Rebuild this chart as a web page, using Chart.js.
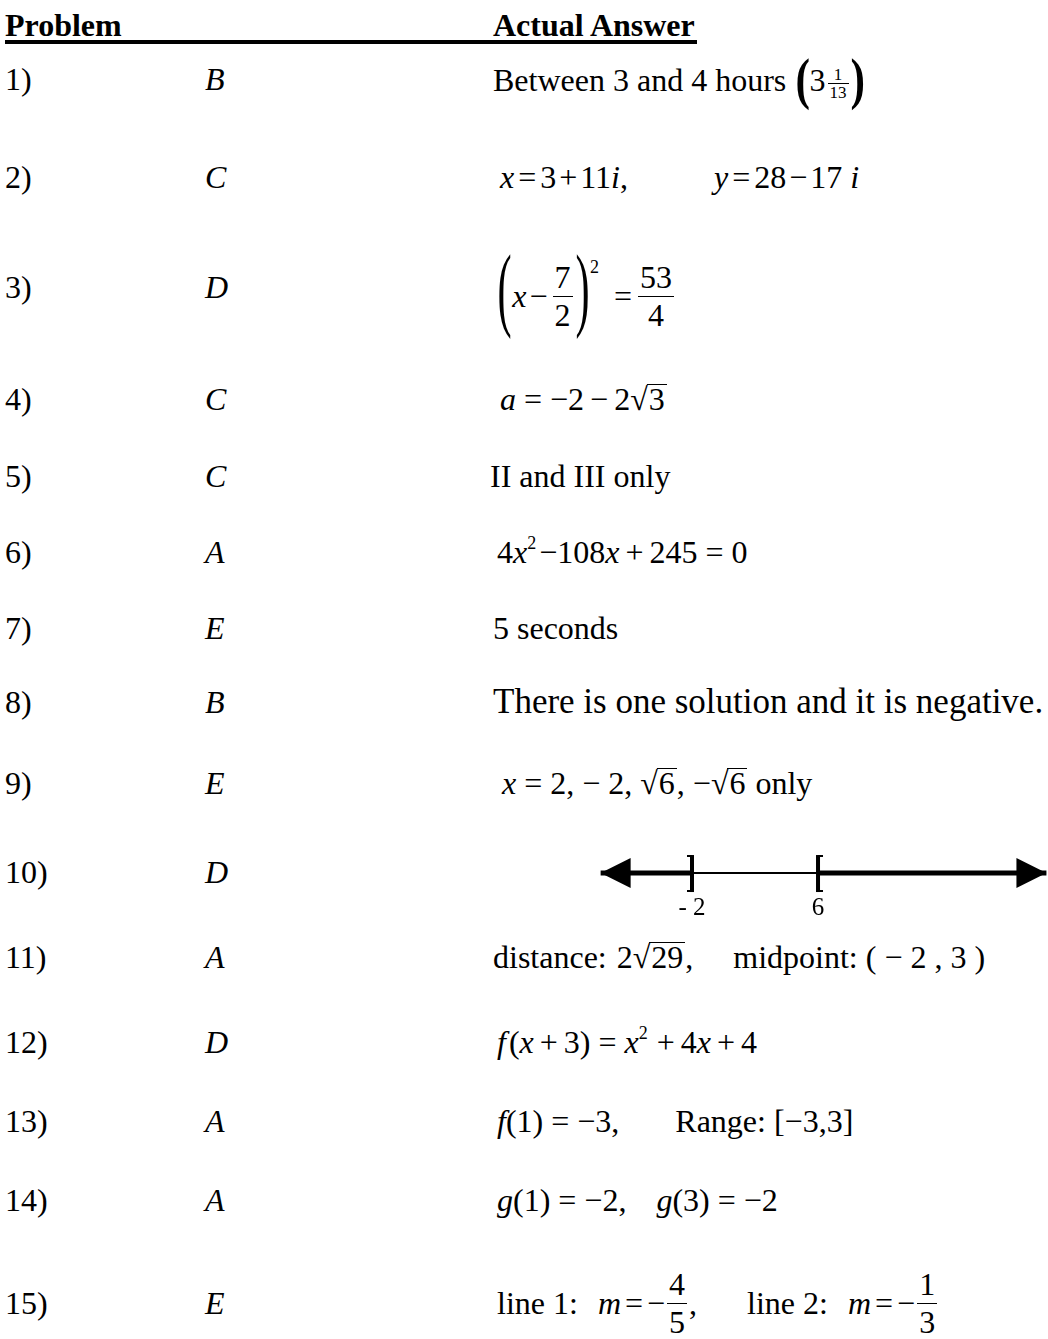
<!DOCTYPE html>
<html>
<head>
<meta charset="utf-8">
<script src="https://cdn.jsdelivr.net/npm/chart.js@4.4.1/dist/chart.umd.min.js"></script>
<style>
html, body { margin: 0; padding: 0; background: #fff; }
body {
    width: 1048px; height: 1339px; position: relative; overflow: hidden;
    font-family: "Liberation Serif", "Times New Roman", serif; font-size: 32px; color: #000;
}
.row { position: absolute; white-space: nowrap; line-height: 120px; }
.hd { font-weight: bold; }
.rule { position: absolute; left: 5px; top: 40px; width: 692px; height: 4px; background: #000; }
.frac { display: inline-block; vertical-align: -19px; text-align: center; line-height: 32px; margin: 0 2px; }
.frac > span { display: block; padding: 0 2px; }
.frac > span:first-child { padding-bottom: 3px; }
.frac > span + span { border-top: 1.5px solid #000; padding-top: 2px; }
.frac.sm { font-size: 17px; line-height: 17px; vertical-align: middle; }
.frac.sm > span:first-child { padding-bottom: 0; }
.frac.sm > span + span { border-top-width: 1px; padding-top: 0; }
.sup { font-size: 18px; position: relative; top: -14px; margin-right: 3px; }
.e { margin: 0 8px; }
.o { margin: 0 6px; }
.et { margin: 0 4px; }
.ot { margin: 0 3px; }
.bp1 { display: inline-block; font-size: 58px; font-weight: bold; transform: scaleX(0.75); vertical-align: -7px; margin: 0 -3px; }
.bp3 { display: inline-block; font-size: 94px; transform: scaleX(0.45); vertical-align: -12px; margin: 0 -8px; }
.sp3 { top: -34px; }
.rs { display: inline-block; margin-right: 1px; }
.ov { display: inline-block; border-top: 1.5px solid #000; line-height: 28px; padding: 0 2px; margin-left: -2px; }
.big { font-size: 35px; }
#lineBox { position: absolute; left: 580px; top: 838px; width: 468px; height: 85px; }
</style>
</head>
<body>
<div class="row hd" style="left:5px;top:-35px">Problem</div>
<div class="row hd" style="left:493px;top:-35px">Actual Answer</div>
<div class="rule"></div>
<div id="rows"></div>
<div id="lineBox"><canvas id="numberLine"></canvas></div>

<script>
const problemLabels = ['1)', '2)', '3)', '4)', '5)', '6)', '7)', '8)', '9)', '10)', '11)', '12)', '13)', '14)', '15)'];
const choiceLetters = ['B', 'C', 'D', 'C', 'C', 'A', 'E', 'B', 'E', 'D', 'A', 'D', 'A', 'A', 'E'];

// number line for problem 10: shaded x <= -2 or x >= 6
const lineStart = -7.8;
const lineEnd = 20.5;
const endpoints = [-2, 6];
const endpointLabels = ['- 2', '6'];
const bracketSides = [']', '['];

// layout only
const rowBaselines = [90, 188, 298, 410, 487, 563, 639, 713, 794, 883, 968, 1053, 1132, 1211, 1314];
const answerLeft = [493, 500, 497, 500, 490, 497, 493, 493, 502, 0, 493, 497, 497, 497, 497];

const g = w => `<span style="display:inline-block;width:${w}px"></span>`;
const sq = s => `<span class="rs">√</span><span class="ov">${s}</span>`;
const fr = (a, b, cls = '') => `<span class="frac ${cls}"><span>${a}</span><span>${b}</span></span>`;
const E = '<span class="e">=</span>';
const P = '<span class="o">+</span>';
const M = '<span class="o">−</span>';
const Et = '<span class="et">=</span>';
const Pt = '<span class="ot">+</span>';
const Mt = '<span class="ot">−</span>';

const answerTexts = [
    `Between 3 and 4 hours ${g(2)}<span class="bp1">(</span>3${fr('1', '13', 'sm')}<span class="bp1">)</span>`,
    `<i>x</i>${Et}3${Pt}11<i>i</i>,${g(86)}<i>y</i>${Et}28${Mt}17 <i>i</i>`,
    `<span class="bp3">(</span><i>x</i>${Mt}${fr('7', '2')}<span class="bp3">)</span><span class="sup sp3">2</span>${g(8)}${Et}${fr('53', '4')}`,
    `<i>a</i>${E}−2${M}2${sq('3')}`,
    `II and III only`,
    `4<i>x</i><span class="sup">2</span>−108<i>x</i>${P}245${E}0`,
    `5 seconds`,
    `<span class="big">There is one solution and it is negative.</span>`,
    `<i>x</i>${E}2, − 2, ${sq('6')}, −${sq('6')} only`,
    ``,
    `distance:${g(10)}2${sq('29')},${g(40)}midpoint:${g(8)}<span style="letter-spacing:8px">(−2,3)</span>`,
    `<i>f</i>${g(3)}(<i>x</i>${P}3)${E}<i>x</i><span class="sup">2</span>${P}4<i>x</i>${P}4`,
    `<i>f</i>(1)${E}−3,${g(56)}Range: [−3,3]`,
    `<i>g</i>(1)${E}−2,${g(30)}<i>g</i>(3)${E}−2`,
    `line 1:${g(20)}<i>m</i>${Et}−${fr('4', '5')},${g(50)}line 2:${g(20)}<i>m</i>${Et}−${fr('1', '3')}`
];

const rowsEl = document.getElementById('rows');
rowsEl.innerHTML = problemLabels.map((p, i) => {
    const top = rowBaselines[i] - 71;
    return `<div class="row" style="left:5px;top:${top}px">${p}</div>` +
        `<div class="row" style="left:205px;top:${top}px"><i>${choiceLetters[i]}</i></div>` +
        (answerTexts[i] ? `<div class="row" style="left:${answerLeft[i]}px;top:${top}px">${answerTexts[i]}</div>` : '');
}).join('');

const markerPlugin = {
    id: 'markers',
    afterDatasetsDraw(chart) {
        const { ctx, scales: { x, y } } = chart;
        const y0 = y.getPixelForValue(0);
        ctx.save();
        ctx.fillStyle = '#000';
        ctx.strokeStyle = '#000';
        [[lineStart, -1], [lineEnd, 1]].forEach(([v, dir]) => {
            const tip = x.getPixelForValue(v);
            ctx.beginPath();
            ctx.moveTo(tip, y0);
            ctx.lineTo(tip - dir * 30, y0 - 15);
            ctx.lineTo(tip - dir * 30, y0 + 15);
            ctx.closePath();
            ctx.fill();
        });
        endpoints.forEach((v, i) => {
            const px = x.getPixelForValue(v);
            const s = bracketSides[i] === ']' ? -1 : 1;
            ctx.fillRect(px - 2, y0 - 18, 4, 37);
            ctx.lineWidth = 2;
            ctx.beginPath();
            ctx.moveTo(px + s * 5, y0 - 17);
            ctx.lineTo(px, y0 - 17);
            ctx.moveTo(px + s * 5, y0 + 18);
            ctx.lineTo(px, y0 + 18);
            ctx.stroke();
        });
        ctx.restore();
    }
};

const pts = arr => arr.map(v => ({ x: v, y: 0 }));
new Chart(document.getElementById('numberLine'), {
    type: 'scatter',
    data: {
        datasets: [
            { data: pts([lineStart, endpoints[0]]), borderWidth: 5 },
            { data: pts([endpoints[0], endpoints[1]]), borderWidth: 2 },
            { data: pts([endpoints[1], lineEnd]), borderWidth: 5 }
        ].map(d => ({ ...d, showLine: true, borderColor: '#000', pointRadius: 0 }))
    },
    options: {
        responsive: true,
        maintainAspectRatio: false,
        animation: false,
        events: [],
        plugins: { legend: { display: false }, tooltip: { enabled: false } },
        scales: {
            x: {
                type: 'linear', min: -9.11, max: 20.6,
                grid: { display: false, drawTicks: false }, border: { display: false },
                afterBuildTicks: axis => { axis.ticks = endpoints.map(v => ({ value: v })); },
                ticks: {
                    autoSkip: false, maxRotation: 0, padding: 0, color: '#000',
                    font: { family: 'Liberation Serif', size: 25 },
                    callback: v => endpointLabels[endpoints.indexOf(v)]
                }
            },
            y: { display: false, min: -0.57, max: 1 }
        }
    },
    plugins: [markerPlugin]
});
</script>
</body>
</html>
